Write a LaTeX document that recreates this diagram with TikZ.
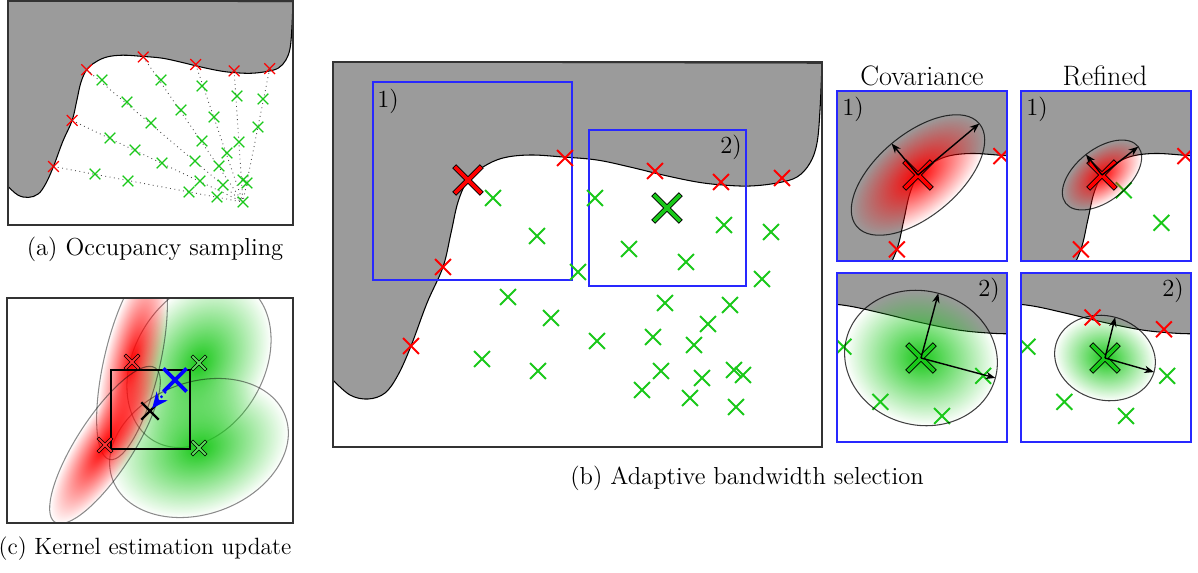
\documentclass[tikz,border=0pt]{standalone}
\usepackage{tikz}
\usetikzlibrary{shapes.misc, fadings, arrows.meta}

\definecolor{occred}{RGB}{255,0,0}
\definecolor{freegreen}{RGB}{25,200,25}
\definecolor{wallgray}{RGB}{155,155,155}
\definecolor{boxblue}{RGB}{40,40,255}

\tikzfading[name=kernel fade, inner color=transparent!0, outer color=transparent!100]

\tikzset{
  xmark/.style={cross out, draw, inner sep=0pt, minimum size=7.9pt, line width=1.1pt},
  occ/.style={xmark, draw=occred},
  free/.style={xmark, draw=freegreen},
  asize/.style={minimum size=5.4pt, line width=0.7pt},
  bigmark/.style={cross out, draw=black, inner sep=0pt, minimum size=13pt, line width=0.5pt, double=#1, double distance=2.2pt, line cap=rect},
  kmark/.style={cross out, draw=black, inner sep=0pt, minimum size=6.5pt, line width=0.4pt, double=#1, double distance=1.1pt, line cap=rect},
  wall/.style={fill=wallgray, draw=black, line width=0.6pt},
  panelframe/.style={draw=black!80, line width=1.2pt},
  zoombox/.style={draw=boxblue, line width=0.85pt},
  kline/.style={draw=black, opacity=0.75, line width=0.6pt},
  kfaint/.style={draw=black, opacity=0.45, line width=0.6pt},
  kaxis/.style={-{Stealth[length=5.5pt, width=4.2pt]}, line width=0.8pt},
  ray/.style={dotted, line width=0.5pt, black!70},
  caption/.style={font=\fontsize{14}{17}\selectfont},
  title/.style={font=\fontsize{16}{19}\selectfont},
}

% obstacle seen from the sensor, in the coordinates of the big panel
\newcommand{\wall}{%
  \filldraw[wall] (333,62) -- plot[smooth, tension=.6] coordinates {(333,380) (350,395) (368,399) (385,393) (398,375) (411,346) (427,303) (443,267) (451,233) (458,202) (468,180) (483,167) (503,158) (530,155) (563,157) (597,160) (630,167) (663,175) (697,182) (723,185) (750,186) (777,183) (797,177) (810,163) (817,143) (820,110) (822,63)} -- cycle;}

% gaussian kernel: [outline] colour, x, y, angle, major, minor
\newcommand{\kernel}[7][kline]{%
  \begin{scope}[transform canvas={shift={(#3,#4)}, rotate=#5}]
    \fill[#2, path fading=kernel fade] (0,0) ellipse [x radius=#6, y radius=#7];
  \end{scope}
  \draw[#1, rotate around={#5:(#3,#4)}] (#3,#4) ellipse [x radius=#6, y radius=#7];
}

\begin{document}
\begin{tikzpicture}[x=0.02cm, y=-0.02cm]
\useasboundingbox (0,0) rectangle (1198,572);

% (a) occupancy sampling
\begin{scope}
  \clip (8,1) rectangle (293,225);
  \begin{scope}[shift={(8,1)}, scale=0.5828, shift={(-333,-62)}]
    \wall
    \coordinate (robot) at (736,407);
    \foreach \p [count=\i] in {(411,346),(443,267),(468,180),(565,158),(655,171),(721,182),(782,178)}
      \node[occ, asize] (hit\i) at \p {};
    \foreach \i in {1,...,7}
      \draw[ray] (hit\i.center) -- (robot);
  \end{scope}
  \foreach \p [count=\i] in {(102,80),(127,102),(151,123),(161,80),(181,110),(202,86),(214,117),(202,141),(195,161),(200,181),(189,192),(219,166),(223,185),(217,197),(237,96),(239,142),(227,153),(243,180),(247,183),(243,202),(263,99),(258,127),(110,138),(135,150),(162,163),(95,174),(128,181)}
    \node[free, asize] (sa\i) at \p {};
\end{scope}
\draw[panelframe] (8,1) rectangle (293,225);
\node[caption] (capa) at (155,249) {(a) Occupancy sampling};

% (b) adaptive bandwidth
\wall
\draw[zoombox] (373,82) rectangle (572,280);
\draw[zoombox] (589,130) rectangle (746,286);
\node[caption] (boxone) at (388,101) {1)};
\node[caption] (boxtwo) at (731,147) {2)};
\foreach \p [count=\i] in {(411,346),(443,267),(565,158),(655,171),(721,182),(782,178)}
  \node[occ] (hb\i) at \p {};
\foreach \p [count=\i] in {(493,198),(537,236),(578,272),(595,198),(629,249),(686,262),(724,225),(771,232),(762,279),(508,297),(551,318),(597,341),(665,303),(730,305),(708,324),(653,337),(694,345),(482,359),(538,371),(661,371),(702,378),(734,370),(743,375),(642,390),(690,398),(736,407)}
  \node[free] (sb\i) at \p {};
\node[bigmark=occred] (qone) at (468,180) {};
\node[bigmark=freegreen] (qtwo) at (667,208) {};
\draw[panelframe, line width=1.5pt] (333,62) rectangle (822,447);
\node[caption] (capb) at (747,478) {(b) Adaptive bandwidth selection};

\node[title] (covtitle) at (922,76) {Covariance};
\node[title] (reftitle) at (1105,76) {Refined};

% 1) covariance
\begin{scope}
  \clip (837,91) rectangle (1007,261);
  \begin{scope}[shift={(837,91)}, scale=0.856, shift={(-373,-82)}]
    \wall
    \node[occ] (c1a) at (565,158) {};
    \node[occ] (c1b) at (443,267) {};
  \end{scope}
  \kernel{occred}{918}{175}{40}{80}{41}
  \node[bigmark=occred] (kc1) at (918,175) {};
  \draw[kaxis] (kc1.center) -- ++(-40:80);
  \draw[kaxis] (kc1.center) -- ++(-130:41);
\end{scope}
\draw[zoombox] (837,91) rectangle (1007,261);
\node[caption] (lc1) at (853,109) {1)};

% 1) refined
\begin{scope}
  \clip (1021,91) rectangle (1191,261);
  \begin{scope}[shift={(1021,91)}, scale=0.856, shift={(-373,-82)}]
    \wall
    \node[occ] (r1a) at (565,158) {};
    \node[occ] (r1b) at (443,267) {};
    \node[free] (r1c) at (493,198) {};
    \node[free] (r1d) at (537,236) {};
  \end{scope}
  \kernel{occred}{1102}{175}{38}{46}{26}
  \node[bigmark=occred] (kr1) at (1102,175) {};
  \draw[kaxis] (kr1.center) -- ++(-38:46);
  \draw[kaxis] (kr1.center) -- ++(-128:26);
\end{scope}
\draw[zoombox] (1021,91) rectangle (1191,261);
\node[caption] (lr1) at (1037,109) {1)};

% 2) covariance
\begin{scope}
  \clip (837,273) rectangle (1007,442);
  \begin{scope}[shift={(837,273)}, scale=1.083, shift={(-589,-130)}]
    \wall
    \node[free] (c2a) at (595,198) {};
    \node[free] (c2b) at (629,249) {};
    \node[free] (c2c) at (686,262) {};
    \node[free] (c2d) at (724,225) {};
  \end{scope}
  \kernel{freegreen}{921}{358}{-15}{77}{67}
  \node[bigmark=freegreen] (kc2) at (921,358) {};
  \draw[kaxis] (kc2.center) -- ++(15:77);
  \draw[kaxis] (kc2.center) -- ++(-75:67);
\end{scope}
\draw[zoombox] (837,273) rectangle (1007,442);
\node[caption] (lc2) at (989,290) {2)};

% 2) refined
\begin{scope}
  \clip (1021,273) rectangle (1191,442);
  \begin{scope}[shift={(1021,273)}, scale=1.083, shift={(-589,-130)}]
    \wall
    \node[free] (r2a) at (595,198) {};
    \node[free] (r2b) at (629,249) {};
    \node[free] (r2c) at (686,262) {};
    \node[free] (r2d) at (724,225) {};
  \end{scope}
  \kernel{freegreen}{1105}{358}{-16}{51}{42}
  \begin{scope}[shift={(1021,273)}, scale=1.083, shift={(-589,-130)}]
    \node[occ] (r2e) at (655,171) {};
    \node[occ] (r2f) at (721,182) {};
  \end{scope}
  \node[bigmark=freegreen] (kr2) at (1105,358) {};
  \draw[kaxis] (kr2.center) -- ++(16:51);
  \draw[kaxis] (kr2.center) -- ++(-76:42);
\end{scope}
\draw[zoombox] (1021,273) rectangle (1191,442);
\node[caption] (lr2) at (1173,290) {2)};

% (c) kernel estimation update
\begin{scope}
  \clip (7,298) rectangle (293,523);
  \kernel[kfaint]{freegreen}{199}{363}{60}{90}{65}
  \kernel[kfaint]{freegreen}{199}{448}{20}{92}{66}
  \kernel[kfaint]{occred}{132}{362}{77}{100}{28}
  \kernel[kfaint]{occred}{105}{445}{57}{92}{28}
\end{scope}
\draw[line width=0.7pt] (111,370) rectangle (190,449);
\node[kmark=occred!80] (ka) at (132,362) {};
\node[kmark=occred!80] (kb) at (105,445) {};
\node[kmark=freegreen!70] (kc) at (199,363) {};
\node[kmark=freegreen!70] (kd) at (199,448) {};
\node[cross out, draw=blue, inner sep=0pt, minimum size=11pt, line width=2.2pt] (mean) at (175,380) {};
\node[cross out, draw=black, inner sep=0pt, minimum size=8.5pt, line width=1.4pt] (est) at (150,411) {};
\draw[blue, dotted, line width=1.3pt, -{Stealth[length=9pt, width=8pt]}, shorten <=5pt, shorten >=2pt] (mean.center) -- (est.center);
\draw[panelframe] (7,298) rectangle (293,523);
\node[caption, font=\fontsize{13.4}{16}\selectfont] (capc) at (145,549) {(c) Kernel estimation update};
\end{tikzpicture}
\end{document}
